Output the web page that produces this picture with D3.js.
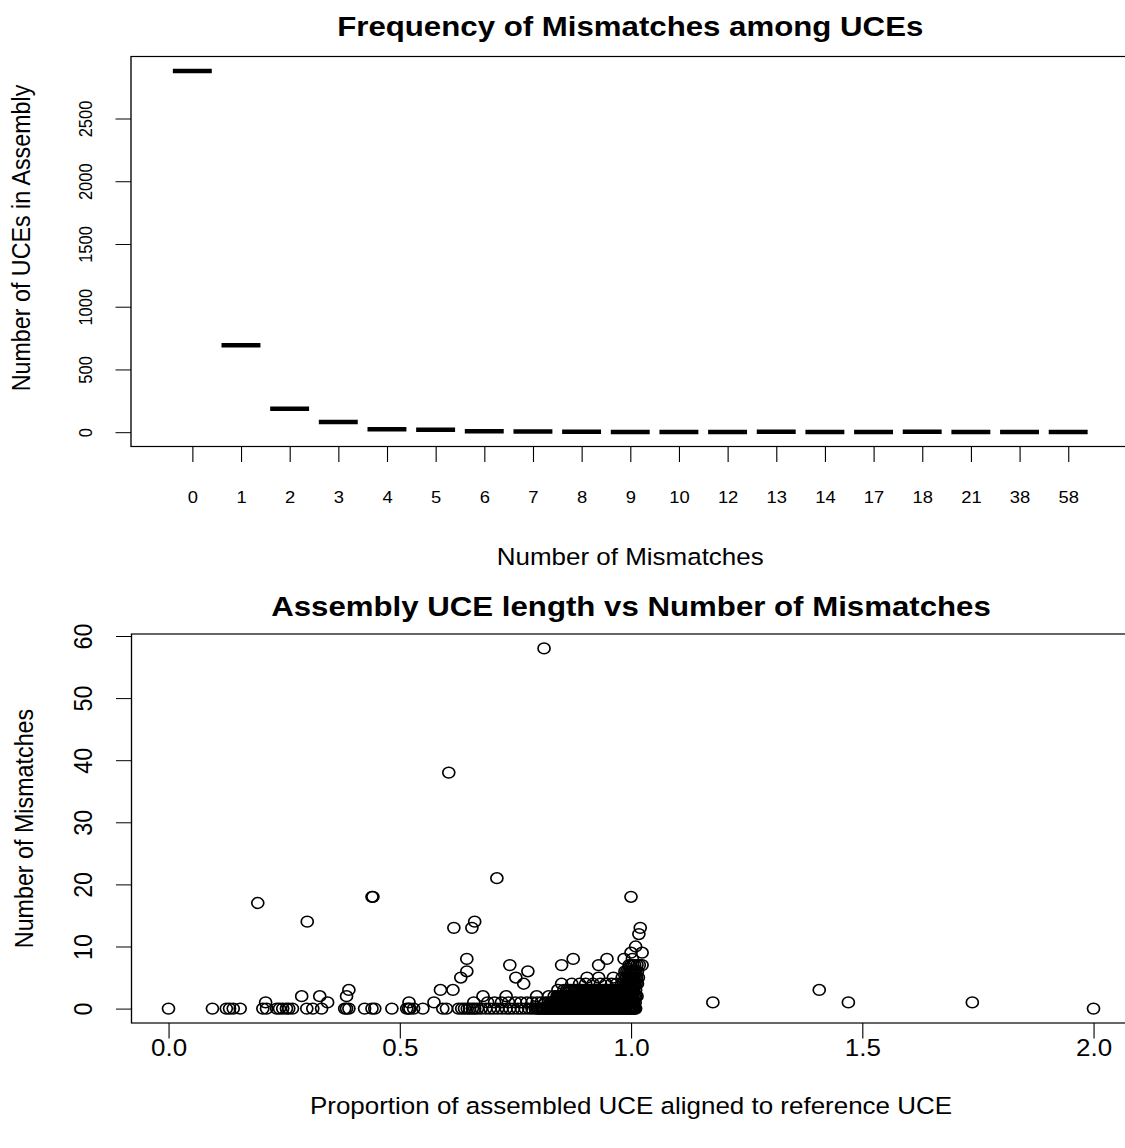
<!DOCTYPE html>
<html>
<head>
<meta charset="utf-8">
<script src="https://cdn.jsdelivr.net/npm/d3@7"></script>
<style>
  body { margin: 0; background: #fff; }
  text { font-family: "Liberation Sans", Arial, Helvetica, sans-serif; fill: #000; }
</style>
</head>
<body>
<script>
// ---- data: frequency of mismatches (top panel) ----
const mismatchCats = ['0','1','2','3','4','5','6','7','8','9','10','12','13','14','17','18','21','38','58']
const uceCounts = [2879, 693, 187, 82, 24, 20, 8, 6, 3, 2, 2, 2, 3, 2, 1, 3, 1, 1, 1]
const countTicks = [0, 500, 1000, 1500, 2000, 2500]

// ---- data: proportion aligned vs mismatches (bottom panel), one array per mismatch count ----
const prop0 = [0.000, 0.095, 0.125, 0.132, 0.140, 0.155, 0.204, 0.212, 0.234, 0.240, 0.247, 0.255, 0.260, 0.268,
  0.299, 0.312, 0.331, 0.381, 0.385, 0.390, 0.424, 0.440, 0.446, 0.483, 0.515, 0.519, 0.522, 0.530, 0.550,
  0.593, 0.601, 0.627, 0.634, 0.640, 0.646, 0.651, 0.657, 0.662, 0.668, 0.676, 0.686, 0.695, 0.703, 0.712,
  0.721, 0.730, 0.738, 0.746, 0.755, 0.763, 0.771, 0.779, 0.786, 0.793, 0.797,
  0.800, 0.803, 0.805, 0.808, 0.811, 0.813, 0.816, 0.819, 0.821, 0.824, 0.827, 0.829, 0.832, 0.835, 0.837,
  0.840, 0.843, 0.845, 0.848, 0.851, 0.853, 0.856, 0.859, 0.861, 0.864, 0.867, 0.869, 0.872, 0.875, 0.877,
  0.880, 0.883, 0.885, 0.888, 0.891, 0.893, 0.896, 0.899, 0.901, 0.904, 0.907, 0.909, 0.912, 0.915, 0.917,
  0.920, 0.923, 0.925, 0.928, 0.931, 0.933, 0.936, 0.939, 0.941, 0.944, 0.947, 0.949, 0.952, 0.955, 0.957,
  0.960, 0.963, 0.965, 0.968, 0.971, 0.973, 0.976, 0.979, 0.981, 0.984, 0.987, 0.989, 0.992, 0.994, 0.996,
  0.998, 1.000, 1.002, 1.004, 1.006, 1.008, 1.010, 2.000]
const prop1 = [0.210, 0.344, 0.520, 0.574, 0.660, 0.690, 0.705, 0.720, 0.735, 0.750, 0.762, 0.775, 0.786, 0.797,
  0.806, 0.815, 0.821, 0.826, 0.829, 0.831, 0.834, 0.837, 0.839, 0.842, 0.845, 0.847, 0.850, 0.853, 0.855,
  0.858, 0.861, 0.863, 0.866, 0.869, 0.871, 0.874, 0.877, 0.879, 0.882, 0.885, 0.887, 0.890, 0.893, 0.895,
  0.898, 0.901, 0.903, 0.906, 0.909, 0.911, 0.914, 0.917, 0.919, 0.922, 0.925, 0.927, 0.930, 0.933, 0.935,
  0.938, 0.941, 0.943, 0.946, 0.949, 0.951, 0.954, 0.957, 0.959, 0.962, 0.965, 0.967, 0.970, 0.973, 0.975,
  0.978, 0.981, 0.983, 0.986, 0.989, 0.991, 0.994, 0.996, 0.998, 1.000, 1.002, 1.004, 1.006, 1.009,
  1.177, 1.470, 1.738]
const prop2 = [0.288, 0.327, 0.385, 0.680, 0.730, 0.796, 0.822, 0.834, 0.840, 0.843, 0.846, 0.849, 0.852, 0.855,
  0.858, 0.861, 0.864, 0.867, 0.870, 0.873, 0.876, 0.879, 0.882, 0.885, 0.888, 0.891, 0.894, 0.897, 0.900,
  0.903, 0.906, 0.909, 0.912, 0.915, 0.918, 0.921, 0.924, 0.927, 0.930, 0.933, 0.936, 0.939, 0.942, 0.945,
  0.948, 0.951, 0.954, 0.957, 0.960, 0.963, 0.966, 0.969, 0.972, 0.975, 0.978, 0.981, 0.984, 0.987, 0.990,
  0.993, 0.996, 0.998, 1.000, 1.002, 1.004, 1.007, 1.010, 1.013]
const prop3 = [0.390, 0.588, 0.615, 0.842, 0.855, 0.861, 0.866, 0.870, 0.874, 0.878, 0.882, 0.886, 0.890, 0.894,
  0.898, 0.902, 0.906, 0.910, 0.914, 0.918, 0.922, 0.926, 0.930, 0.934, 0.938, 0.942, 0.946, 0.950, 0.954,
  0.958, 0.962, 0.966, 0.970, 0.974, 0.978, 0.982, 0.986, 0.990, 0.994, 0.997, 1.000, 1.003, 1.006, 1.010,
  1.407]
const prop4 = [0.768, 0.850, 0.872, 0.889, 0.902, 0.918, 0.934, 0.946, 0.958, 0.969, 0.980, 0.987, 0.990, 0.993,
  0.996, 0.999, 1.002, 1.005, 1.008, 1.011, 1.014]
const prop5 = [0.632, 0.751, 0.905, 0.930, 0.962, 0.981, 0.990, 0.994, 0.997, 1.000, 1.003, 1.006, 1.009, 1.012,
  1.016]
const prop6 = [0.645, 0.777, 0.987, 0.991, 0.995, 0.998, 1.001, 1.004, 1.007, 1.010, 1.014]
const prop7 = [0.738, 0.850, 0.930, 0.996, 1.000, 1.004, 1.008, 1.013, 1.018, 1.024]
const prop8 = [0.645, 0.875, 0.948, 0.985, 1.003]
const prop9 = [1.000, 1.024]
const prop10 = [1.010]
const prop12 = [1.017]
const prop13 = [0.617, 0.656, 1.020]
const prop14 = [0.300, 0.662]
const prop17 = [0.193]
const prop18 = [0.440, 0.442, 1.000]
const prop21 = [0.710]
const prop38 = [0.606]
const prop58 = [0.812]
const propTicks = [0, 0.5, 1, 1.5, 2]
const mismatchTicks = [0, 10, 20, 30, 40, 50, 60]

const scatterRows = [[0, prop0], [1, prop1], [2, prop2], [3, prop3], [4, prop4], [5, prop5], [6, prop6],
  [7, prop7], [8, prop8], [9, prop9], [10, prop10], [12, prop12], [13, prop13], [14, prop14], [17, prop17],
  [18, prop18], [21, prop21], [38, prop38], [58, prop58]]
const points = scatterRows.flatMap(([m, props]) => props.map(p => ({x: p, y: m})))

// ---- layout (the reference is stretched horizontally, so draw in a scaled group) ----
const SX = 1.115
const W = 1125, H = 1148
const baseFont = 23.3
const tickLen = 15.5

function pad(ext) { // R style 4% axis expansion
  const d = (ext[1] - ext[0]) * 0.04
  return [ext[0] - d, ext[1] + d]
}

let svg = d3.select('body').append('svg')
    .attr('width', W)
    .attr('height', H)
svg.append('rect').attr('width', W).attr('height', H).attr('fill', '#fff')

let root = svg.append('g').attr('transform', `scale(${SX},1)`)

function styleAxis(g) {
  g.select('.domain').remove()
  g.attr('font-family', null).attr('font-size', null)
  g.selectAll('.tick line').attr('stroke', '#000').attr('stroke-width', 1)
}

// ================= top panel =================
const box1 = {left: 131 / SX, right: 1129.5 / SX, top: 56.5, bottom: 446.5}
const n = mismatchCats.length

let x1 = d3.scaleLinear()
    .domain(pad([0.5, n + 0.5]))
    .range([box1.left, box1.right])
let y1 = d3.scaleLinear()
    .domain(pad(d3.extent(uceCounts)))
    .range([box1.bottom, box1.top])

let p1 = root.append('g')

// median lines of the one-value boxplots
p1.selectAll('.med')
  .data(uceCounts)
  .join('line')
    .attr('class', 'med')
    .attr('x1', (d, i) => x1(i + 1 - 0.4))
    .attr('x2', (d, i) => x1(i + 1 + 0.4))
    .attr('y1', d => y1(d))
    .attr('y2', d => y1(d))
    .attr('stroke', '#000')
    .attr('stroke-width', 4.5)

// x axis
let xAx1 = p1.append('g')
    .attr('transform', `translate(0,${box1.bottom})`)
    .call(d3.axisBottom(x1)
      .tickValues(d3.range(1, n + 1))
      .tickFormat(i => mismatchCats[i - 1])
      .tickSize(tickLen))
styleAxis(xAx1)
xAx1.selectAll('.tick text')
    .attr('y', 57)
    .attr('dy', null)
    .attr('font-size', 16.5)

// y axis
let yAx1 = p1.append('g')
    .attr('transform', `translate(${box1.left},0)`)
    .call(d3.axisLeft(y1)
      .tickValues(countTicks)
      .tickFormat(d3.format('d'))
      .tickSize(tickLen / SX))
styleAxis(yAx1)
yAx1.selectAll('.tick text')
    .attr('x', null)
    .attr('dy', null)
    .attr('text-anchor', 'middle')
    .attr('font-size', 16.5)
    .attr('transform', `translate(${82.2 - box1.left},0) rotate(-90)`)

p1.append('rect')
    .attr('x', box1.left)
    .attr('y', box1.top)
    .attr('width', box1.right - box1.left)
    .attr('height', box1.bottom - box1.top)
    .attr('fill', 'none')
    .attr('stroke', '#000')
    .attr('stroke-width', 1.2)

// labels
p1.append('text')
    .attr('x', (box1.left + box1.right) / 2)
    .attr('y', 36)
    .attr('text-anchor', 'middle')
    .attr('font-size', 28)
    .attr('font-weight', 'bold')
    .text('Frequency of Mismatches among UCEs')

p1.append('text')
    .attr('x', (box1.left + box1.right) / 2)
    .attr('y', 565.5)
    .attr('text-anchor', 'middle')
    .attr('font-size', baseFont)
    .text('Number of Mismatches')

p1.append('text')
    .attr('transform', `translate(${30 / SX},238) rotate(-90)`)
    .attr('text-anchor', 'middle')
    .attr('font-size', baseFont)
    .text('Number of UCEs in Assembly')

// ================= bottom panel =================
const box2 = {left: 131.5 / SX, right: 1130.5 / SX, top: 634, bottom: 1023}

let x2 = d3.scaleLinear()
    .domain(pad(d3.extent(points, d => d.x)))
    .range([box2.left, box2.right])
let y2 = d3.scaleLinear()
    .domain(pad(d3.extent(points, d => d.y)))
    .range([box2.bottom, box2.top])

let p2 = root.append('g')

p2.selectAll('.pt')
  .data(points)
  .join('circle')
    .attr('class', 'pt')
    .attr('cx', d => x2(d.x))
    .attr('cy', d => y2(d.y))
    .attr('r', 5.4)
    .attr('fill', 'none')
    .attr('stroke', '#000')
    .attr('stroke-width', 1.5)

let xAx2 = p2.append('g')
    .attr('transform', `translate(0,${box2.bottom})`)
    .call(d3.axisBottom(x2)
      .tickValues(propTicks)
      .tickFormat(d3.format('.1f'))
      .tickSize(tickLen))
styleAxis(xAx2)
xAx2.selectAll('.tick text')
    .attr('y', 33.5)
    .attr('dy', null)
    .attr('font-size', baseFont)

let yAx2 = p2.append('g')
    .attr('transform', `translate(${box2.left},0)`)
    .call(d3.axisLeft(y2)
      .tickValues(mismatchTicks)
      .tickSize(tickLen / SX))
styleAxis(yAx2)
yAx2.selectAll('.tick text')
    .attr('x', null)
    .attr('dy', null)
    .attr('text-anchor', 'middle')
    .attr('font-size', baseFont)
    .attr('transform', `translate(${91.5 / SX - box2.left},0) rotate(-90)`)

p2.append('rect')
    .attr('x', box2.left)
    .attr('y', box2.top)
    .attr('width', box2.right - box2.left)
    .attr('height', box2.bottom - box2.top)
    .attr('fill', 'none')
    .attr('stroke', '#000')
    .attr('stroke-width', 1.2)

p2.append('text')
    .attr('x', (box2.left + box2.right) / 2)
    .attr('y', 616)
    .attr('text-anchor', 'middle')
    .attr('font-size', 28)
    .attr('font-weight', 'bold')
    .text('Assembly UCE length vs Number of Mismatches')

p2.append('text')
    .attr('x', (box2.left + box2.right) / 2)
    .attr('y', 1114.5)
    .attr('text-anchor', 'middle')
    .attr('font-size', baseFont)
    .text('Proportion of assembled UCE aligned to reference UCE')

p2.append('text')
    .attr('transform', `translate(${33 / SX},${(box2.top + box2.bottom) / 2}) rotate(-90)`)
    .attr('text-anchor', 'middle')
    .attr('font-size', baseFont)
    .text('Number of Mismatches')
</script>
</body>
</html>
